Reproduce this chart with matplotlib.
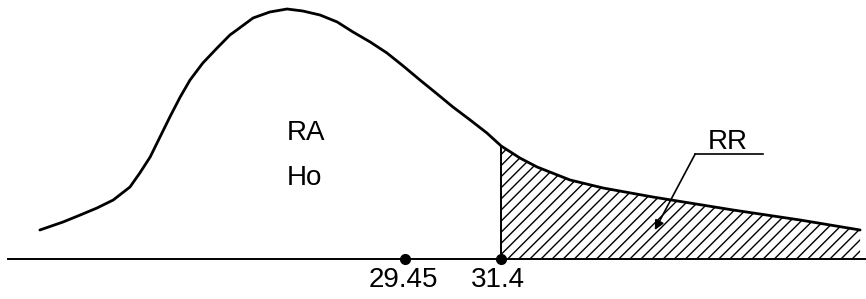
import numpy as np
import matplotlib.pyplot as plt

plt.rcParams['font.family'] = ['Liberation Sans', 'DejaVu Sans']
plt.rcParams['hatch.linewidth'] = 1.0

# curve (x in statistic units, height in arbitrary units)
curve_x = [22.03, 22.50, 22.85, 23.19, 23.52, 23.86, 24.06, 24.27, 24.47, 24.67,
           24.88, 25.08, 25.34, 25.63, 25.89, 26.03, 26.36, 26.70, 27.05, 27.37,
           27.72, 28.07, 28.39, 28.74, 29.08, 29.41, 29.75, 30.10, 30.42, 30.77,
           31.11, 31.40, 31.78, 32.13, 32.80, 33.47, 34.48, 36.11, 37.47, 38.69]
curve_h = [29, 37, 44, 51, 59, 72, 86, 102, 122, 142,
           162, 179, 196, 211, 224, 229, 241, 247, 250, 248,
           244, 237, 227, 217, 206, 193, 179, 165, 152, 139,
           126, 113, 101, 92, 79, 71, 62, 49, 39, 29]

stat_value = 29.45
critical_value = 31.4
tick_labels = ["29.45", "31.4"]

curve_x = np.array(curve_x)
curve_h = np.array(curve_h)

fig = plt.figure(figsize=(8.66, 2.99), dpi=100)
ax = fig.add_axes([0, 0, 1, 1])
ax.set_xlim(21.22, 38.81)
ax.set_ylim(-40, 259)
ax.axis('off')

# rejection region
mask = curve_x >= critical_value
ax.fill_between(curve_x[mask], 0, curve_h[mask], facecolor='white',
                edgecolor='black', hatch='///', linewidth=0)

ax.plot(curve_x, curve_h, color='black', lw=2.0, solid_joinstyle='round',
        solid_capstyle='round')
h_crit = curve_h[curve_x == critical_value][0]
ax.plot([critical_value, critical_value], [0, h_crit], color='black', lw=1.4)

# base line
ax.plot([21.38, 38.81], [0, 0], color='black', lw=1.4)
ax.plot([stat_value, critical_value], [0, 0], 'o', color='black', ms=7)

ax.text(stat_value - 0.04, -21, tick_labels[0], ha='center', va='center', fontsize=20)
ax.text(critical_value - 0.06, -21, tick_labels[1], ha='center', va='center', fontsize=20)

ax.text(27.05, 126, "RA", ha='left', va='center', fontsize=20)
ax.text(27.05, 81, "Ho", ha='left', va='center', fontsize=20)

ax.text(35.60, 117, "RR", ha='left', va='center', fontsize=20)
ax.plot([35.34, 36.72], [105, 105], color='black', lw=1.2)
ax.annotate("", xy=(34.52, 29), xytext=(35.34, 105),
            arrowprops=dict(arrowstyle='-|>', color='black', lw=1.2,
                            mutation_scale=14, shrinkA=0, shrinkB=0))

fig.savefig("out.png", dpi=100)
